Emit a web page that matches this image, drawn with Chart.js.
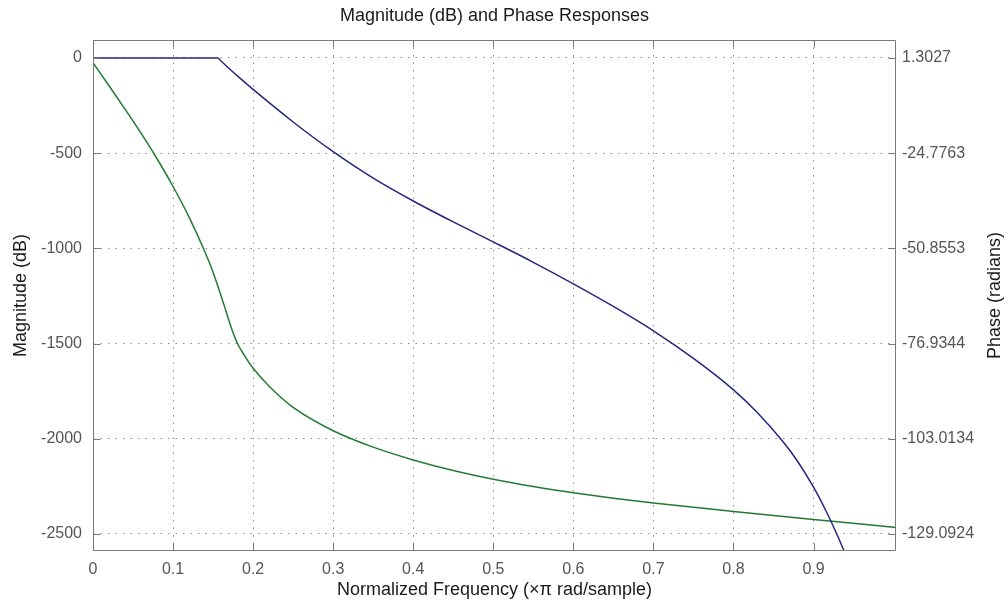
<!DOCTYPE html>
<html>
<head>
<meta charset="utf-8">
<script src="https://cdn.jsdelivr.net/npm/chart.js@4.4.1/dist/chart.umd.min.js"></script>
<style>
  html, body { margin: 0; padding: 0; background: #fff; }
  #wrap { width: 1007px; height: 614px; }
</style>
</head>
<body>
<div id="wrap"><canvas id="resp" width="1007" height="614"></canvas></div>
<script>
// magnitude response (dB) against normalized frequency
var magFreq = [0, 0.156, 0.158, 0.17, 0.185, 0.2, 0.25, 0.3, 0.35, 0.4, 0.45, 0.5, 0.55, 0.6,
               0.65, 0.7, 0.75, 0.8, 0.83, 0.863, 0.88, 0.9, 0.915, 0.93, 0.945];
var magDb = [0, 0, -8, -55, -111, -165, -336, -492, -631, -751, -861, -966, -1073, -1186,
             -1305, -1433, -1578, -1743, -1863, -2021, -2118, -2254, -2374, -2509, -2659];

// unwrapped phase (radians)
var phaseFreq = [0, 0.02, 0.04, 0.06, 0.08, 0.1, 0.12, 0.14, 0.148, 0.156, 0.164, 0.172, 0.18, 0.19, 0.2,
                 0.22, 0.25, 0.3, 0.35, 0.4, 0.45, 0.5, 0.55, 0.6, 0.65, 0.7, 0.8, 0.9, 1.003];
var phaseRad = [0, -6.3, -12.7, -19.3, -26.3, -33.9, -42.3, -51.9, -56.2, -61.2, -66.6, -72.1, -76.7, -80.5, -83.7,
                -88.6, -94.4, -100.8, -105.3, -108.8, -111.7, -114.1, -116.1, -117.8, -119.3, -120.6, -122.9, -125.1, -127.3];

var freqTicks = [0, 0.1, 0.2, 0.3, 0.4, 0.5, 0.6, 0.7, 0.8, 0.9];
var magTicks = [0, -500, -1000, -1500, -2000, -2500];
var phaseTicks = [1.3027, -24.7763, -50.8553, -76.9344, -103.0134, -129.0924];

var freqMax = 1.003;
var magMin = -2589.3;
var magMax = 94.5;

// the phase axis is tied to the magnitude axis so both tick sets share grid lines
var radPerDb = (phaseTicks[0] - phaseTicks[phaseTicks.length - 1]) / (magTicks[0] - magTicks[magTicks.length - 1]);
function dbToRad(db) {
    return phaseTicks[0] + (db - magTicks[0]) * radPerDb;
}

function toPoints(xs, ys) {
    return xs.map(function (x, i) { return {x: x, y: ys[i]}; });
}

var FONT = '"Liberation Sans", Arial, sans-serif';
var LINE = '#7a7a7a';

// matlab-style box with inward tick marks and the right axis label
var axesBox = {
    id: 'axesBox',
    afterDatasetsDraw: function (chart) {
        var ctx = chart.ctx;
        var a = chart.chartArea;
        var sx = chart.scales.x;
        var sy = chart.scales.y;
        var len = 7;
        var l = Math.round(a.left) + 0.5, r = Math.round(a.right) - 0.5;
        var t = Math.round(a.top) + 0.5, b = Math.round(a.bottom) - 0.5;
        ctx.save();
        ctx.strokeStyle = LINE;
        ctx.lineWidth = 1;
        ctx.beginPath();
        ctx.rect(l, t, r - l, b - t);
        freqTicks.forEach(function (v) {
            var px = Math.round(sx.getPixelForValue(v)) + 0.5;
            ctx.moveTo(px, t); ctx.lineTo(px, t + len);
            ctx.moveTo(px, b); ctx.lineTo(px, b - len);
        });
        magTicks.forEach(function (v) {
            var py = Math.round(sy.getPixelForValue(v)) + 0.5;
            ctx.moveTo(l, py); ctx.lineTo(l + len, py);
            ctx.moveTo(r, py); ctx.lineTo(r - len, py);
        });
        ctx.stroke();

        ctx.fillStyle = '#1a1a1a';
        ctx.font = '18px ' + FONT;
        ctx.textAlign = 'center';
        ctx.textBaseline = 'middle';
        ctx.translate(995, (a.top + a.bottom) / 2);
        ctx.rotate(-Math.PI / 2);
        ctx.fillText('Phase (radians)', 0, 0);
        ctx.restore();
    }
};

var gridOpts = {color: '#8c8c8c', lineWidth: 1, drawTicks: false};
var tickFont = {family: FONT, size: 16};

new Chart(document.getElementById('resp'), {
    type: 'line',
    data: {
        datasets: [
            {
                label: 'Magnitude',
                data: toPoints(magFreq, magDb),
                yAxisID: 'y',
                borderColor: '#26267e',
                borderWidth: 1.5,
                pointRadius: 0,
                cubicInterpolationMode: 'monotone',
                fill: false
            },
            {
                label: 'Phase',
                data: toPoints(phaseFreq, phaseRad),
                yAxisID: 'y2',
                borderColor: '#237a33',
                borderWidth: 1.5,
                pointRadius: 0,
                cubicInterpolationMode: 'monotone',
                fill: false
            }
        ]
    },
    options: {
        responsive: false,
        animation: false,
        devicePixelRatio: 1,
        layout: {padding: 0},
        plugins: {
            legend: {display: false},
            tooltip: {enabled: false},
            title: {
                display: true,
                text: 'Magnitude (dB) and Phase Responses',
                fullSize: false,
                color: '#1a1a1a',
                font: {family: FONT, size: 18, weight: 'normal'},
                padding: {top: 5, bottom: 13.4}
            }
        },
        scales: {
            x: {
                type: 'linear',
                min: 0,
                max: freqMax,
                afterBuildTicks: function (scale) {
                    scale.ticks = freqTicks.map(function (v) { return {value: v}; });
                },
                afterFit: function (scale) { scale.height = 63; },
                grid: gridOpts,
                border: {display: false, dash: [1.5, 6]},
                ticks: {
                    color: '#555',
                    font: tickFont,
                    padding: 9,
                    maxRotation: 0,
                    callback: function (v) { return String(Math.round(v * 10) / 10); }
                },
                title: {
                    display: true,
                    text: 'Normalized Frequency (\u00d7\u03c0 rad/sample)',
                    color: '#1a1a1a',
                    font: {family: FONT, size: 18},
                    padding: {top: 0, bottom: 13}
                }
            },
            y: {
                type: 'linear',
                position: 'left',
                min: magMin,
                max: magMax,
                afterBuildTicks: function (scale) {
                    scale.ticks = magTicks.map(function (v) { return {value: v}; });
                },
                afterFit: function (scale) { scale.width = 93; },
                grid: gridOpts,
                border: {display: false, dash: [1.5, 6]},
                ticks: {
                    color: '#555',
                    font: tickFont,
                    padding: 11,
                    callback: function (v) { return String(v); }
                },
                title: {
                    display: true,
                    text: 'Magnitude (dB)',
                    color: '#1a1a1a',
                    font: {family: FONT, size: 18},
                    padding: {top: 10, bottom: 0}
                }
            },
            y2: {
                type: 'linear',
                position: 'right',
                min: dbToRad(magMin),
                max: dbToRad(magMax),
                afterBuildTicks: function (scale) {
                    scale.ticks = phaseTicks.map(function (v) { return {value: v}; });
                },
                afterFit: function (scale) { scale.width = 111; },
                grid: {drawOnChartArea: false, drawTicks: false},
                border: {display: false},
                ticks: {
                    color: '#555',
                    font: tickFont,
                    padding: 6,
                    callback: function (v) { return v.toFixed(4); }
                }
            }
        }
    },
    plugins: [axesBox]
});
</script>
</body>
</html>
